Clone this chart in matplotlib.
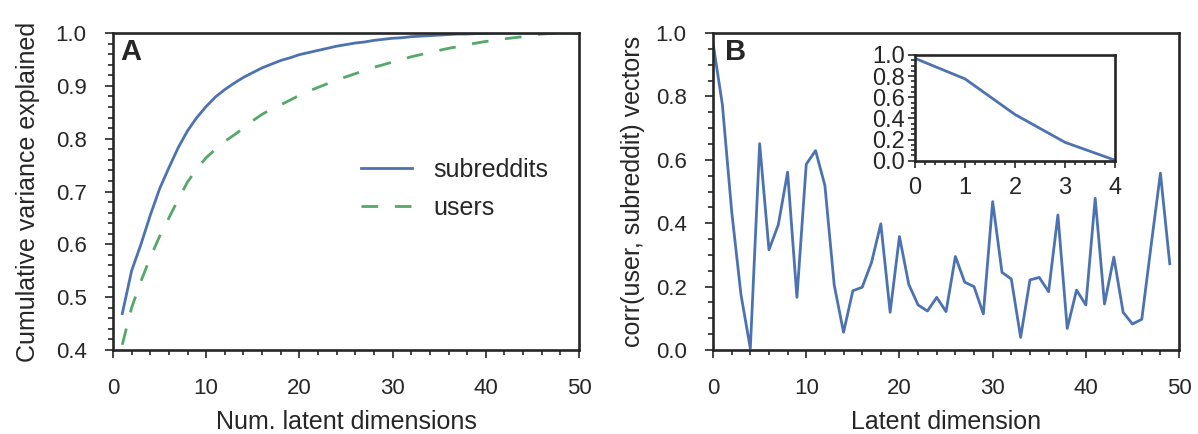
import numpy as np
import matplotlib
matplotlib.use("Agg")
import matplotlib.pyplot as plt
from matplotlib.ticker import MultipleLocator

plt.rcParams['font.family'] = ['Liberation Sans', 'DejaVu Sans']
plt.rcParams['text.color'] = '#262626'
plt.rcParams['axes.labelcolor'] = '#262626'
plt.rcParams['xtick.color'] = '#262626'
plt.rcParams['ytick.color'] = '#262626'

# panel A: cumulative variance explained
dims = np.arange(1, 51)
subreddits = [0.469, 0.55, 0.60, 0.655, 0.705, 0.745, 0.783, 0.815, 0.84, 0.861,
              0.879, 0.893, 0.905, 0.916, 0.925, 0.934, 0.941, 0.948, 0.953, 0.959,
              0.963, 0.967, 0.971, 0.975, 0.978, 0.981, 0.983, 0.986, 0.988, 0.990,
              0.991, 0.993, 0.994, 0.995, 0.996, 0.997, 0.998, 0.998, 0.999, 0.999,
              1.0, 1.0, 1.0, 1.0, 1.0, 1.0, 1.0, 1.0, 1.0, 1.0]
users = [0.41, 0.48, 0.53, 0.575, 0.615, 0.65, 0.685, 0.718, 0.743, 0.764,
         0.78, 0.795, 0.807, 0.82, 0.834, 0.846, 0.856, 0.864, 0.873, 0.882,
         0.89, 0.897, 0.904, 0.911, 0.917, 0.923, 0.929, 0.935, 0.94, 0.945,
         0.95, 0.955, 0.959, 0.963, 0.967, 0.971, 0.974, 0.978, 0.981, 0.984,
         0.986, 0.989, 0.991, 0.993, 0.996, 0.998, 0.999, 1.0, 1.0, 1.0]

# panel B: correlation per latent dimension
latent = np.arange(0, 50)
corr = [0.968, 0.774, 0.437, 0.174, 0.005, 0.651, 0.316, 0.395, 0.561, 0.166,
        0.586, 0.629, 0.519, 0.205, 0.056, 0.187, 0.198, 0.276, 0.398, 0.119,
        0.358, 0.207, 0.142, 0.123, 0.166, 0.121, 0.295, 0.214, 0.200, 0.114,
        0.468, 0.245, 0.224, 0.040, 0.221, 0.229, 0.184, 0.426, 0.068, 0.189,
        0.142, 0.479, 0.145, 0.293, 0.119, 0.082, 0.097, 0.33, 0.558, 0.272]

blue = '#4C72B0'
green = '#55A868'
dark = '#262626'


def style(ax, fs=16, xpad=14, ypad=13, maj=6, mino=3.5):
    for s in ax.spines.values():
        s.set_linewidth(1.9)
        s.set_color(dark)
    ax.tick_params(which='both', direction='out', width=1.2, labelsize=fs)
    ax.tick_params(which='major', length=maj)
    ax.tick_params(which='minor', length=mino)
    ax.tick_params(axis='x', pad=xpad)
    ax.tick_params(axis='y', pad=ypad)


fig = plt.figure(figsize=(11.98, 4.34), dpi=100)

axA = fig.add_axes([0.0943, 0.1935, 0.389, 0.7305])
axA.plot(dims, subreddits, color=blue, lw=2.0, label='subreddits')
axA.plot(dims, users, color=green, lw=2.0, dashes=(6, 6), label='users')
axA.set_xlim(0, 50)
axA.set_ylim(0.4, 1.0)
axA.xaxis.set_major_locator(MultipleLocator(10))
axA.xaxis.set_minor_locator(MultipleLocator(2))
axA.yaxis.set_major_locator(MultipleLocator(0.1))
axA.yaxis.set_minor_locator(MultipleLocator(0.02))
style(axA)
axA.set_xlabel('Num. latent dimensions', fontsize=18)
axA.set_ylabel('Cumulative variance explained', fontsize=18)
axA.xaxis.set_label_coords(0.5, -0.19)
axA.yaxis.set_label_coords(-0.157, 0.5)
axA.legend(loc='center left', bbox_to_anchor=(0.483, 0.508), frameon=False,
           fontsize=18, handlelength=2.05, handletextpad=0.85, labelspacing=0.55)
axA.text(0.015, 0.985, 'A', transform=axA.transAxes, fontsize=21,
         fontweight='bold', va='top', ha='left')

axB = fig.add_axes([0.5952, 0.1935, 0.389, 0.7305])
axB.plot(latent, corr, color=blue, lw=2.0)
axB.set_xlim(0, 50)
axB.set_ylim(0, 1.0)
axB.xaxis.set_major_locator(MultipleLocator(10))
axB.xaxis.set_minor_locator(MultipleLocator(2))
axB.yaxis.set_major_locator(MultipleLocator(0.2))
axB.yaxis.set_minor_locator(MultipleLocator(0.05))
style(axB)
axB.set_xlabel('Latent dimension', fontsize=18)
axB.set_ylabel('corr(user, subreddit) vectors', fontsize=18)
axB.xaxis.set_label_coords(0.5, -0.19)
axB.yaxis.set_label_coords(-0.146, 0.5)
axB.text(0.025, 0.985, 'B', transform=axB.transAxes, fontsize=21,
         fontweight='bold', va='top', ha='left')

# inset: first five dimensions
axI = fig.add_axes([0.7638, 0.6297, 0.1669, 0.2436])
axI.plot(latent[:5], corr[:5], color=blue, lw=2.0)
axI.set_xlim(0, 4)
axI.set_ylim(0, 1.0)
axI.xaxis.set_major_locator(MultipleLocator(1))
axI.xaxis.set_minor_locator(MultipleLocator(0.2))
axI.yaxis.set_major_locator(MultipleLocator(0.2))
axI.yaxis.set_minor_locator(MultipleLocator(0.05))
style(axI, fs=17, xpad=7, ypad=2, maj=5, mino=3)

fig.savefig('out.png', dpi=100)
